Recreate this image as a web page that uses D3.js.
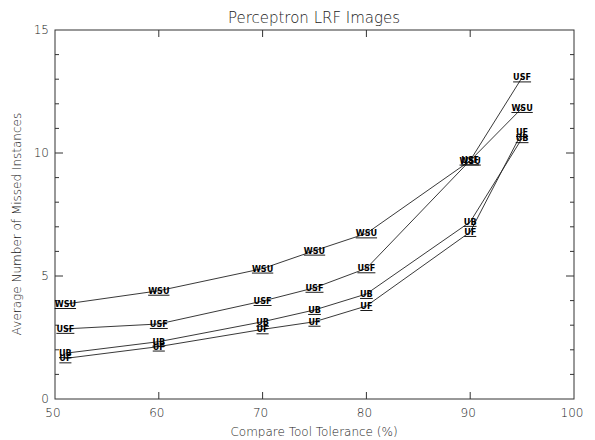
<!DOCTYPE html>
<html><head><meta charset="utf-8">
<script src="https://cdn.jsdelivr.net/npm/d3@7"></script>
<style>
body{margin:0;background:#fff;}
svg{display:block;}
.lt{font-family:"DejaVu Sans",sans-serif;font-weight:200;fill:#222;}
.mk{font-family:"DejaVu Sans Condensed","DejaVu Sans",sans-serif;font-weight:bold;font-size:9px;fill:#000;text-decoration:underline;}
</style></head>
<body>
<svg id="c" width="595" height="440"></svg>
<script>
const tolerance = [51, 60, 70, 75, 80, 90, 95];
const seriesNames = ["WSU", "USF", "UB", "UF"];
const wsu = [3.86, 4.4, 5.3, 6.03, 6.73, 9.69, 11.83];
const usf = [2.85, 3.05, 3.98, 4.52, 5.31, 9.7, 13.07];
const ub  = [1.86, 2.33, 3.14, 3.62, 4.27, 7.2, 10.6];
const uf  = [1.65, 2.13, 2.83, 3.14, 3.78, 6.79, 10.85];
const xTicks = [50, 60, 70, 80, 90, 100];
const yTicks = [0, 5, 10, 15];
const title = "Perceptron LRF Images";
const xTitle = "Compare Tool Tolerance (%)";
const yTitle = "Average Number of Missed Instances";

const series = [wsu, usf, ub, uf].map((v, i) => ({name: seriesNames[i], values: v}));

const svg = d3.select("#c");
const L = 55, R = 574, T = 30, B = 399;
const x = d3.scaleLinear().domain([50, 100]).range([L, R]);
const y = d3.scaleLinear().domain([0, 15]).range([B, T]);

// frame
svg.append("rect").attr("x", L).attr("y", T).attr("width", R - L).attr("height", B - T)
  .attr("fill", "none").attr("stroke", "#333").attr("stroke-width", 1);

// x ticks (inward, bottom and top)
const xInner = xTicks.filter(t => t > 50 && t < 100);
svg.selectAll(".xtb").data(xInner).enter().append("line")
  .attr("x1", d => x(d)).attr("x2", d => x(d)).attr("y1", B).attr("y2", B - 7)
  .attr("stroke", "#333");
svg.selectAll(".xtt").data(xInner).enter().append("line")
  .attr("x1", d => x(d)).attr("x2", d => x(d)).attr("y1", T).attr("y2", T + 7)
  .attr("stroke", "#333");
svg.selectAll(".xl").data(xTicks).enter().append("text").attr("class", "lt")
  .attr("x", d => x(d) - 2).attr("y", B + 18).attr("text-anchor", "middle")
  .attr("font-size", 12).text(d => d);

// y ticks: minor every 1, major at 5
const yMinor = d3.range(1, 15);
svg.selectAll(".ytl").data(yMinor).enter().append("line")
  .attr("x1", L).attr("x2", d => L + (d % 5 === 0 ? 8 : 4)).attr("y1", d => y(d)).attr("y2", d => y(d))
  .attr("stroke", "#333");
svg.selectAll(".ytr").data(yMinor).enter().append("line")
  .attr("x1", R).attr("x2", d => R - (d % 5 === 0 ? 8 : 4)).attr("y1", d => y(d)).attr("y2", d => y(d))
  .attr("stroke", "#333");
svg.selectAll(".yl").data(yTicks).enter().append("text").attr("class", "lt")
  .attr("x", L - 6).attr("y", d => y(d) + 4).attr("text-anchor", "end")
  .attr("font-size", 12).text(d => d);

// titles
svg.append("text").attr("class", "lt").attr("x", 314).attr("y", 23)
  .attr("text-anchor", "middle").attr("font-size", 15).text(title);
svg.append("text").attr("class", "lt").attr("x", 314).attr("y", 436)
  .attr("text-anchor", "middle").attr("font-size", 12).text(xTitle);
svg.append("text").attr("class", "lt").attr("transform", `translate(21,224) rotate(-90)`)
  .attr("text-anchor", "middle").attr("font-size", 12).text(yTitle);

// lines
const line = d3.line().x((d, i) => x(tolerance[i])).y(d => y(d));
svg.selectAll(".ln").data(series).enter().append("path")
  .attr("d", d => line(d.values)).attr("fill", "none").attr("stroke", "#222").attr("stroke-width", 0.9);

// markers (text labels)
series.forEach(s => {
  svg.selectAll(null).data(s.values).enter().append("text").attr("class", "mk")
    .attr("x", (d, i) => x(tolerance[i])).attr("y", d => y(d) + 3)
    .attr("text-anchor", "middle").text(s.name);
});
</script>
</body></html>
